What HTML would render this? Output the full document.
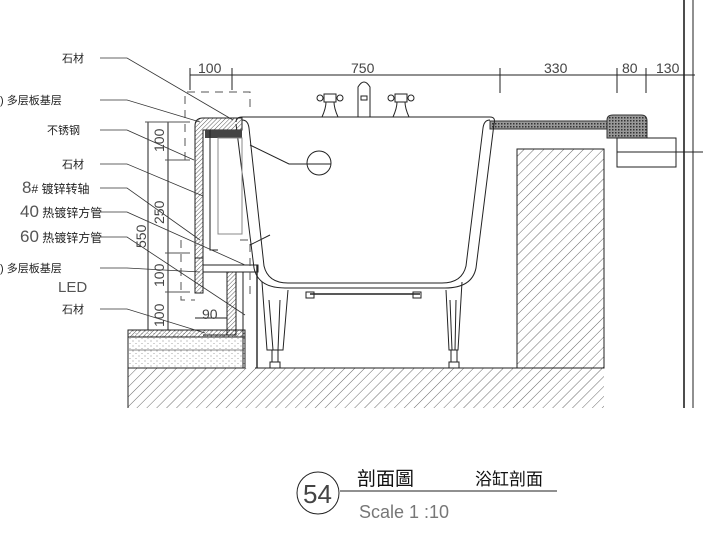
<!DOCTYPE html>
<html><head><meta charset="utf-8"><style>
html,body{margin:0;padding:0;background:#fff;}
svg{display:block;}
text{font-family:"Liberation Sans","Noto Sans CJK SC",sans-serif;fill:#222;}
</style></head><body>
<svg width="703" height="547" viewBox="0 0 703 547" xmlns="http://www.w3.org/2000/svg">
<defs>
<pattern id="h" width="7" height="7" patternUnits="userSpaceOnUse" patternTransform="rotate(45)"><line x1="0" y1="0" x2="0" y2="7" stroke="#444" stroke-width="0.8"/></pattern>
<pattern id="hd" width="3" height="3" patternUnits="userSpaceOnUse" patternTransform="rotate(45)"><line x1="0" y1="0" x2="0" y2="3" stroke="#333" stroke-width="0.8"/></pattern>
<pattern id="x" width="3" height="3" patternUnits="userSpaceOnUse"><rect width="3" height="3" fill="#999"/><rect width="1.5" height="1.5" fill="#333"/></pattern>
<pattern id="d" width="6" height="5" patternUnits="userSpaceOnUse"><circle cx="1" cy="1" r="0.5" fill="#666"/><circle cx="4" cy="3.5" r="0.5" fill="#888"/></pattern>
</defs>
<g stroke="#222" fill="none" stroke-width="1">
<line x1="190" y1="75" x2="695" y2="75"/>
<line x1="190" y1="68" x2="190" y2="90"/><line x1="232" y1="68" x2="232" y2="90"/>
<line x1="500" y1="68" x2="500" y2="93"/><line x1="617" y1="68" x2="617" y2="93"/>
<line x1="646" y1="68" x2="646" y2="93"/>
<line x1="684" y1="0" x2="684" y2="408" stroke-width="1.6"/><line x1="693" y1="0" x2="693" y2="408"/>
<rect x="128" y="368" width="476" height="40" fill="url(#h)" stroke="none"/>
<rect x="517" y="149" width="87" height="219" fill="url(#h)"/>
<line x1="255" y1="368" x2="517" y2="368"/>
<line x1="128" y1="330" x2="128" y2="408"/>
<rect x="128" y="330" width="117" height="38" fill="url(#d)"/>
<rect x="128" y="330" width="117" height="7" fill="url(#hd)"/>
<line x1="128" y1="350" x2="245" y2="350" stroke="#888"/>
<rect x="490" y="121" width="118" height="8" fill="url(#x)" stroke="#333"/>
<path d="M607,138 V120 Q607,115 613,115 H641 Q647,115 647,121 V138 Z" fill="url(#x)" stroke="#333"/>
<rect x="617" y="138" width="59" height="29"/>
<line x1="617" y1="152" x2="703" y2="152"/>
<path d="M236,122 Q236,117 242,117 H490 Q496,117 494,124 L476,268 Q472,288 445,288 H285 Q258,288 254,268 L236,124"/>
<path d="M242,120 Q248,120 249,128 L264,266 Q268,283 288,283 H442 Q462,283 466,266 L483,128 Q484,120 490,120"/>
<line x1="242" y1="117" x2="490" y2="117"/>
<path d="M262,282 L267,350 H283 L288,290"/><path d="M269,300 L273,350 M280,300 L278,350"/>
<path d="M462,282 L458,350 H449 L446,290"/><path d="M450,300 L452,350 M456,300 L455,350"/>
<rect x="272" y="350" width="6" height="12"/><rect x="270" y="362" width="10" height="6"/>
<rect x="451" y="350" width="6" height="12"/><rect x="449" y="362" width="10" height="6"/>
<line x1="310" y1="294" x2="420" y2="294" stroke-width="1.5"/>
<rect x="306" y="292" width="8" height="6"/><rect x="413" y="292" width="8" height="6"/>
<path d="M358,117 V87 Q364,77 370,87 V117"/><rect x="361" y="96" width="6" height="4"/>
<path d="M322,117 Q326,108 326,102 H334 Q334,108 338,117"/><rect x="324" y="94" width="12" height="8"/><circle cx="320" cy="98" r="3"/><circle cx="340" cy="98" r="3"/>
<path d="M393,117 Q397,108 397,102 H405 Q405,108 409,117"/><rect x="395" y="94" width="12" height="8"/><circle cx="391" cy="98" r="3"/><circle cx="411" cy="98" r="3"/>
<circle cx="319" cy="163" r="12"/><line x1="307" y1="164" x2="331" y2="164"/>
<polyline points="250,145 289,164 307,164"/>
<path d="M195,258 V126 Q195,118 203,118 H242 V130 H203 V258 Z" fill="url(#hd)"/>
<rect x="205" y="130" width="37" height="8" fill="#444" stroke="none"/>
<polyline points="210,130 210,250 218,250"/>
<rect x="218" y="138" width="24" height="96" stroke="#888"/>
<rect x="195" y="258" width="8" height="35" fill="url(#hd)"/>
<rect x="203" y="265" width="55" height="7"/>
<rect x="227" y="272" width="9" height="63" fill="url(#hd)"/>
<line x1="203" y1="335" x2="236" y2="335"/>
<line x1="243" y1="272" x2="243" y2="368"/><line x1="257" y1="265" x2="257" y2="368" stroke-width="1.4"/>
<g stroke="#555" stroke-dasharray="8,6"><polyline points="185,160 185,92 250,92 250,110"/><polyline points="181,240 181,300 195,300"/><polyline points="240,240 250,240 250,300"/></g>
<line x1="250" y1="245" x2="270" y2="235"/>
<line x1="148" y1="122" x2="148" y2="330"/><line x1="168" y1="122" x2="168" y2="330"/>
<g stroke="#555"><line x1="145" y1="122" x2="190" y2="122"/><line x1="165" y1="160" x2="190" y2="160"/><line x1="165" y1="253" x2="190" y2="253"/><line x1="165" y1="292" x2="190" y2="292"/></g>
<line x1="195" y1="318" x2="227" y2="318"/>
<g stroke="#333" stroke-width="0.8">
<polyline points="100,58 127,58 233,120"/><polyline points="100,100 127,100 200,122"/>
<polyline points="100,130 127,130 194,160"/><polyline points="100,164 127,164 203,196"/>
<polyline points="100,188 127,188 200,240"/><polyline points="100,212 127,212 245,265"/>
<polyline points="100,237 127,237 245,315"/><polyline points="100,268 127,268 200,272"/>
<polyline points="100,309 127,309 205,333"/>
</g>
<circle cx="318" cy="493" r="21"/><line x1="340" y1="491" x2="557" y2="491"/>
</g>
<g font-size="11">
<text x="62" y="62">石材</text><text x="0" y="104">) 多层板基层</text><text x="47" y="134">不锈钢</text>
<text x="62" y="168">石材</text>
<text x="22" y="193" font-size="12"><tspan font-size="17" style="fill:#555">8</tspan># 镀锌转轴</text>
<text x="20" y="217" font-size="12"><tspan font-size="17" style="fill:#555">40</tspan> 热镀锌方管</text>
<text x="20" y="242" font-size="12"><tspan font-size="17" style="fill:#555">60</tspan> 热镀锌方管</text>
<text x="0" y="272">) 多层板基层</text><text x="62" y="313">石材</text>
</g>
<text x="58" y="292" font-size="15" style="fill:#555">LED</text>
<g font-size="14" style="fill:#444">
<text x="198" y="73" style="fill:#444">100</text><text x="351" y="73" style="fill:#444">750</text><text x="544" y="73" style="fill:#444">330</text><text x="622" y="73" style="fill:#444">80</text><text x="656" y="73" style="fill:#444">130</text>
<text x="202" y="319" style="fill:#444">90</text>
<text transform="translate(164,152) rotate(-90)" style="fill:#444">100</text><text transform="translate(164,224) rotate(-90)" style="fill:#444">250</text>
<text transform="translate(146,248) rotate(-90)" style="fill:#444">550</text><text transform="translate(164,287) rotate(-90)" style="fill:#444">100</text>
<text transform="translate(164,327) rotate(-90)" style="fill:#444">100</text>
</g>
<text x="303" y="503" font-size="26" style="fill:#444">54</text>
<text x="357" y="485" font-size="19" style="fill:#111">剖面圖</text>
<text x="475" y="485" font-size="17" style="fill:#111">浴缸剖面</text>
<text x="359" y="518" font-size="18" style="fill:#777">Scale 1 :10</text>
</svg>
</body></html>
